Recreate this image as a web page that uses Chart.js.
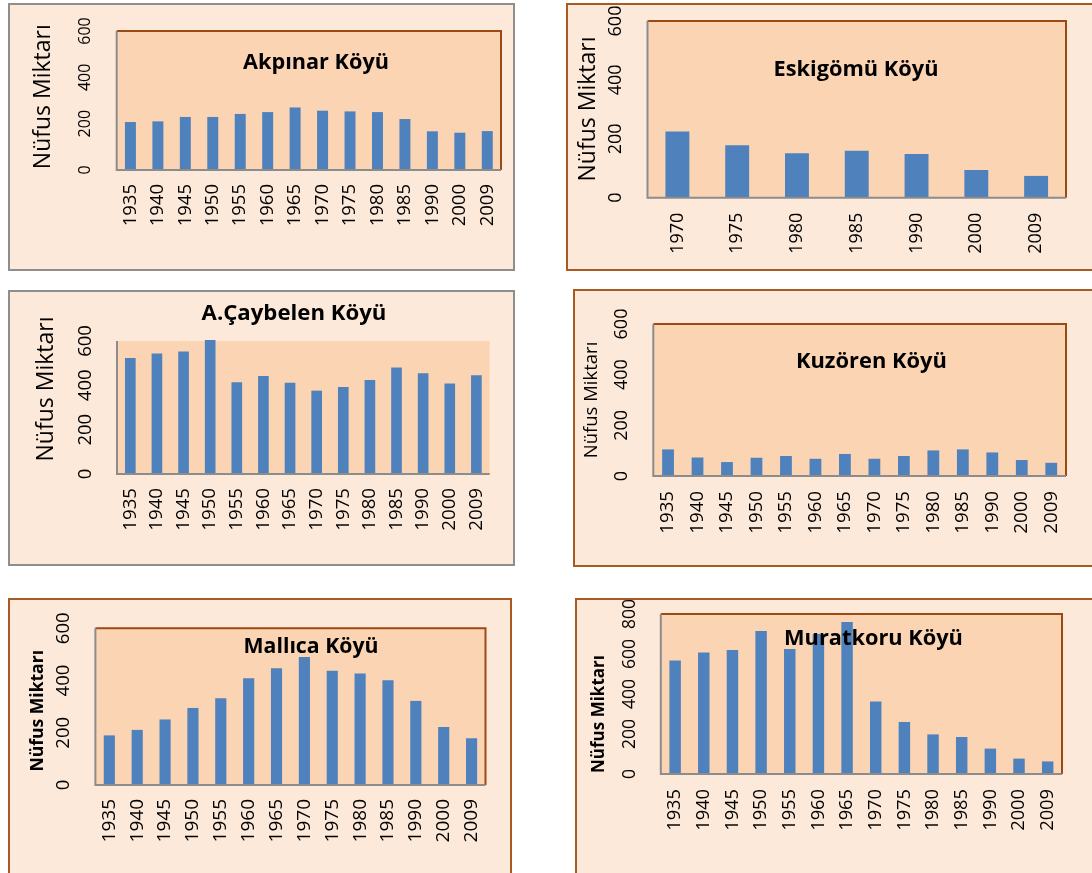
<!DOCTYPE html>
<html>
<head>
<meta charset="utf-8">
<script src="https://cdn.jsdelivr.net/npm/chart.js@4.4.0/dist/chart.umd.min.js"></script>
<style>
  html, body { margin: 0; padding: 0; background: #fff; width: 1092px; height: 873px; overflow: hidden; }
  .box { position: absolute; box-sizing: border-box; background: #FDE9D9; border: 2px solid #A85A22; }
  .box.gray { border-color: #8E8E8E; }
  canvas { position: absolute; left: 0; top: 0; }
</style>
</head>
<body>
<script>
  /* ===== data ===== */
  const yearsLong = ['1935','1940','1945','1950','1955','1960','1965','1970','1975','1980','1985','1990','2000','2009'];
  const yearsShort = ['1970','1975','1980','1985','1990','2000','2009'];

  const akpinar   = [207, 210, 229, 229, 242, 250, 270, 256, 253, 250, 220, 167, 161, 168];
  const eskigomu  = [225, 178, 151, 159, 148, 94, 74];
  const caybelen  = [523, 544, 553, 605, 414, 442, 412, 376, 392, 424, 481, 454, 408, 445];
  const kuzoren   = [105, 73, 55, 72, 79, 68, 87, 68, 79, 101, 105, 93, 63, 52];
  const mallica   = [190, 211, 251, 295, 332, 409, 447, 490, 437, 427, 401, 322, 222, 179];
  const muratkoru = [567, 607, 620, 715, 625, 700, 760, 362, 260, 198, 185, 127, 77, 63];

  const ticks600 = [0, 200, 400, 600];
  const ticks800 = [0, 200, 400, 600, 800];
  const yTitle = 'Nüfus Miktarı';

  /* ===== layout of the six panels ===== */
  const panels = [
    { title: 'Akpınar Köyü', labels: yearsLong, values: akpinar, ticks: ticks600,
      box: [8, 3, 507, 268, 'gray'], plot: [116.7, 31, 501, 170], head: [316, 63.3, 146],
      yt: [43.3, 96.7, 145, 'normal'], yTickX: 85, yTickSize: 16, xTickSize: 18.5, xPad: 14, frame: true },
    { title: 'Eskigömü Köyü', labels: yearsShort, values: eskigomu, ticks: ticks600,
      box: [566, 3, 600, 268, ''], plot: [647.5, 21, 1066, 197.7], head: [856, 70, 165],
      yt: [588, 109, 145, 'normal'], yTickX: 616, yTickSize: 18, xTickSize: 18, xPad: 15, frame: true },
    { title: 'A.Çaybelen Köyü', labels: yearsLong, values: caybelen, ticks: ticks600,
      box: [8, 290, 507, 276, 'gray'], plot: [117, 341, 489.7, 474], head: [294, 313.3, 185],
      yt: [46.5, 389, 145, 'normal'], yTickX: 85.4, yTickSize: 18.5, xTickSize: 18.7, xPad: 14, frame: false },
    { title: 'Kuzören Köyü', labels: yearsLong, values: kuzoren, ticks: ticks600,
      box: [573, 289, 600, 278, ''], plot: [653.3, 324, 1066, 476], head: [871.4, 361.7, 151],
      yt: [592, 400, 116.7, 'normal'], yTickX: 622, yTickSize: 18, xTickSize: 18.7, xPad: 15, frame: true },
    { title: 'Mallıca Köyü', labels: yearsLong, values: mallica, ticks: ticks600,
      box: [8, 598, 504, 400, ''], plot: [95.4, 628.3, 485.5, 785], head: [311, 646.7, 135],
      yt: [38, 710.8, 121.7, 'bold'], yTickX: 63.7, yTickSize: 18.5, xTickSize: 19, xPad: 14, frame: true },
    { title: 'Muratkoru Köyü', labels: yearsLong, values: muratkoru, ticks: ticks800,
      box: [575, 598, 600, 400, ''], plot: [660.8, 614, 1062, 774], head: [873.5, 639, 179],
      yt: [599, 714, 118, 'bold'], yTickX: 629.6, yTickSize: 17.5, xTickSize: 18.3, xPad: 15, frame: true }
  ];

  const W = 1092, H = 873, XH = 60;
  const FONT = "'Open Sans', 'Noto Sans', sans-serif";

  // font size that makes text span the given width
  function fitSize(ctx, text, weight, width) {
    ctx.font = weight + ' 20px ' + FONT;
    return 20 * width / ctx.measureText(text).width;
  }

  // text rotated to read bottom -> top
  function vText(ctx, text, x, y) {
    ctx.save();
    ctx.translate(x, y);
    ctx.rotate(-Math.PI / 2);
    ctx.textAlign = 'center';
    ctx.textBaseline = 'middle';
    ctx.fillText(text, 0, 0);
    ctx.restore();
  }

  const decor = {
    id: 'decor',
    beforeDraw(chart, args, o) {
      const { ctx, chartArea: a } = chart;
      ctx.save();
      ctx.fillStyle = '#FBD4B4';
      ctx.fillRect(a.left, a.top, a.width, a.height);
      ctx.restore();
    },
    afterDatasetsDraw(chart, args, o) {
      const { ctx, chartArea: a } = chart;
      const y = chart.scales.y;
      ctx.save();
      ctx.lineWidth = 2;
      if (o.frame) {
        ctx.strokeStyle = '#9A4A12';
        ctx.beginPath();
        ctx.moveTo(a.left, a.top);
        ctx.lineTo(a.right, a.top);
        ctx.lineTo(a.right, a.bottom);
        ctx.stroke();
      }
      ctx.strokeStyle = '#8C8C8C';
      ctx.beginPath();
      ctx.moveTo(a.left, a.top);
      ctx.lineTo(a.left, a.bottom);
      ctx.lineTo(a.right, a.bottom);
      ctx.stroke();

      ctx.fillStyle = '#000';
      // y tick labels (rotated)
      ctx.font = o.yTickSize + 'px ' + FONT;
      o.ticks.forEach(v => vText(ctx, String(v), o.yTickX, y.getPixelForValue(v)));

      // y axis title
      const ys = fitSize(ctx, yTitle, o.yt[3], o.yt[2]);
      ctx.font = o.yt[3] + ' ' + ys + 'px ' + FONT;
      vText(ctx, yTitle, o.yt[0], o.yt[1]);

      // chart title
      const ts = fitSize(ctx, o.title, 'bold', o.head[2]);
      ctx.font = 'bold ' + ts + 'px ' + FONT;
      ctx.textAlign = 'center';
      ctx.textBaseline = 'middle';
      ctx.fillText(o.title, o.head[0], o.head[1]);
      ctx.restore();
    }
  };

  panels.forEach(p => {
    const box = document.createElement('div');
    box.className = 'box ' + p.box[4];
    box.style.left = p.box[0] + 'px';
    box.style.top = p.box[1] + 'px';
    box.style.width = p.box[2] + 'px';
    box.style.height = p.box[3] + 'px';
    document.body.appendChild(box);
  });

  panels.forEach(p => {
    const cv = document.createElement('canvas');
    cv.width = W;
    cv.height = H;
    document.body.appendChild(cv);

    new Chart(cv.getContext('2d'), {
      type: 'bar',
      data: {
        labels: p.labels,
        datasets: [{
          data: p.values,
          backgroundColor: '#4F81BD',
          borderWidth: 0,
          barPercentage: 0.4,
          categoryPercentage: 1,
          clip: false
        }]
      },
      options: {
        responsive: false,
        animation: false,
        layout: {
          padding: {
            left: p.plot[0],
            top: p.plot[1],
            right: W - p.plot[2],
            bottom: H - p.plot[3] - XH
          }
        },
        scales: {
          x: {
            grid: { display: false, drawTicks: false },
            border: { display: false },
            ticks: {
              color: '#000',
              font: { family: FONT, size: p.xTickSize },
              maxRotation: 90,
              minRotation: 90,
              autoSkip: false,
              padding: p.xPad
            },
            afterFit(s) { s.height = XH; }
          },
          y: {
            display: false,
            min: 0,
            max: p.ticks[p.ticks.length - 1]
          }
        },
        plugins: {
          legend: { display: false },
          tooltip: { enabled: false },
          decor: {
            frame: p.frame,
            ticks: p.ticks,
            yTickX: p.yTickX,
            yTickSize: p.yTickSize,
            yt: p.yt,
            title: p.title,
            head: p.head
          }
        }
      },
      plugins: [decor]
    });
  });
</script>
</body>
</html>
